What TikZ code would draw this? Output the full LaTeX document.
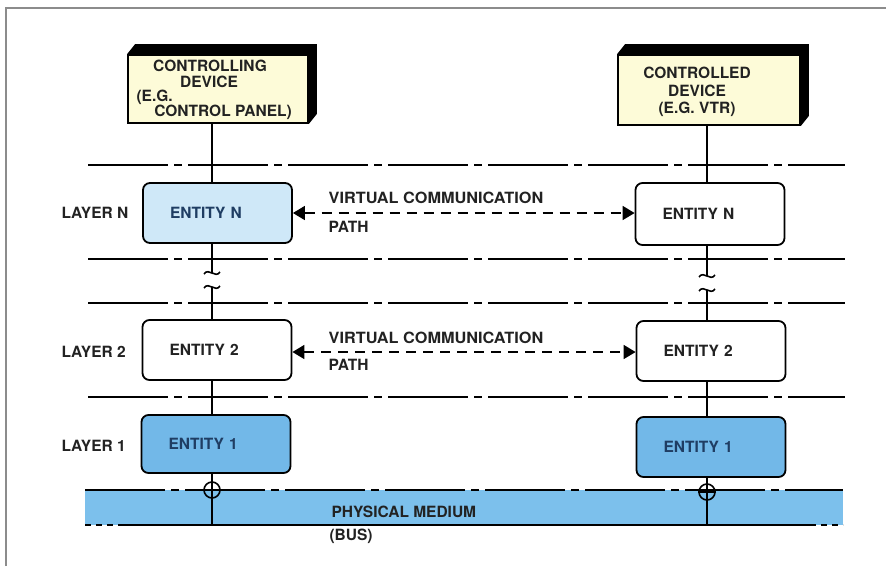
\documentclass[tikz,border=0pt]{standalone}
\usepackage{fontspec}
\setmainfont{TeX Gyre Heros}
\usetikzlibrary{arrows.meta,calc}

\definecolor{devfill}{HTML}{FDFBD8}
\definecolor{paleblue}{HTML}{CFE8F8}
\definecolor{midblue}{HTML}{72B8E8}
\definecolor{busblue}{HTML}{7CC0EC}
\definecolor{inkgray}{HTML}{222222}
\definecolor{inknavy}{HTML}{1F3D63}
\definecolor{framegray}{HTML}{8C8C8C}

\newcommand\lblfont{\fontsize{15.5}{18}\selectfont\bfseries}

\begin{document}
\begin{tikzpicture}[x=1pt,y=-1pt,
  every node/.style={font=\lblfont, text=inkgray},
  rule/.style={line width=1.9pt, draw=black},
  layerline/.style={line width=1.9pt, dash pattern=on 80pt off 6pt on 8pt off 6pt},
  devbox/.style={draw, line width=1.8pt, fill=devfill, rectangle},
  entity/.style={draw, line width=1.8pt, rounded corners=7pt, minimum height=60pt,
    text width=95pt, inner xsep=27pt, align=left, fill=white},
  vpath/.style={line width=1.6pt, dash pattern=on 10pt off 7pt,
    {Triangle[length=12pt,width=14pt]}-{Triangle[length=12pt,width=14pt]}},
  junction/.style={circle, draw, line width=1.6pt, minimum size=16pt, inner sep=0pt},
  brk/.style={line width=1.6pt}
]
\useasboundingbox (0,0) rectangle (886,566);

% page frame (top and left edges)
\draw[framegray, line width=2pt] (6,566) -- (6,8) -- (886,8);

% physical medium band
\fill[busblue] (85,490) rectangle (843,525);
\draw[layerline] (85,490) -- (843,490);
\draw[line width=1.9pt, dash pattern=on 6pt off 5pt] (85,525) -- (118,525);
\draw[line width=1.9pt] (118,525) -- (810,525);
\draw[line width=1.9pt, dash pattern=on 6pt off 5pt] (810,525) -- (843,525);

% layer boundaries
\draw[layerline] (88,165) -- (845,165);
\draw[layerline] (88,259) -- (845,259);
\draw[layerline] (88,303) -- (845,303);
\draw[layerline] (88,397) -- (845,397);

% column positions
\coordinate (colL) at (212,0);
\coordinate (colR) at (707,0);

% devices
\node[devbox, minimum width=180pt, minimum height=68pt] (devL) at (218,89) {};
\fill ($(devL.north west)$) -- ++(8,-10) -- ($(devL.north east)+(8,-10)$)
  -- ($(devL.south east)+(8,-10)$) -- (devL.south east) -- (devL.north east) -- cycle;
\node (devLa) at (210,66) {CONTROLLING};
\node (devLb) at (209,82) {DEVICE};
\node[anchor=west] (devLc) at (133,97) {(E.G.};
\node (devLd) at (223,112) {CONTROL PANEL)};

\node[devbox, minimum width=182pt, minimum height=70pt] (devR) at (709,90) {};
\fill ($(devR.north west)$) -- ++(8,-10) -- ($(devR.north east)+(8,-10)$)
  -- ($(devR.south east)+(8,-10)$) -- (devR.south east) -- (devR.north east) -- cycle;
\node[align=center] (devRt) at (697,92) {CONTROLLED\\[-0.5pt]DEVICE\\[-0.5pt](E.G. VTR)};

% entities, controlling side
\node[entity, fill=paleblue, text=inknavy] (entNL) at (217.5,213) {ENTITY N};
\node[entity] (ent2L) at (217,350) {ENTITY 2};
\node[entity, fill=midblue, text=inknavy, minimum height=58pt] (ent1L) at (216,444) {ENTITY 1};

% entities, controlled side
\node[entity, minimum height=62pt] (entNR) at (710,214) {ENTITY N};
\node[entity] (ent2R) at (711,351) {ENTITY 2};
\node[entity, fill=midblue, text=inknavy] (ent1R) at (711,447) {ENTITY 1};

% layer labels
\node[anchor=west] (layN) at (58,213) {LAYER N};
\node[anchor=west] (lay2) at (58,352) {LAYER 2};
\node[anchor=west] (lay1) at (58,446) {LAYER 1};

% break points on the vertical stacks
\coordinate (brkLa) at (212,273);
\coordinate (brkLb) at (212,287);
\coordinate (brkRa) at (707,276);
\coordinate (brkRb) at (707,290);

% junctions with the medium
\node[junction] (jL) at (212,490) {};
\node[junction] (jR) at (707,492) {};
\coordinate (busL) at (212,525);
\coordinate (busR) at (707,525);

% vertical stack, controlling side
\draw[rule] (devL.south -| colL) -- (entNL.north -| colL);
\draw[rule] (entNL.south -| colL) -- (brkLa);
\draw[rule] (brkLb) -- (ent2L.north -| colL);
\draw[rule] (ent2L.south -| colL) -- (ent1L.north -| colL);
\draw[rule] (ent1L.south -| colL) -- (jL.north);
\draw[rule] (jL.north) -- (busL);
\draw[line width=1.6pt] (jL.west) -- (jL.east);

% vertical stack, controlled side
\draw[rule] (devR.south -| colR) -- (entNR.north -| colR);
\draw[rule] (entNR.south -| colR) -- (brkRa);
\draw[rule] (brkRb) -- (ent2R.north -| colR);
\draw[rule] (ent2R.south -| colR) -- (ent1R.north -| colR);
\draw[rule] (ent1R.south -| colR) -- (jR.north);
\draw[rule] (jR.north) -- (busR);
\draw[line width=1.6pt] (jR.west) -- (jR.east);

% break marks
\foreach \p in {brkLa,brkLb,brkRa,brkRb}{
  \draw[brk] ($(\p)+(-8,1)$) .. controls ($(\p)+(-3,-6)$) and ($(\p)+(3,6)$) .. ($(\p)+(8,-1)$);
}

% virtual communication paths
\draw[vpath] (entNL.east) -- (entNL.east -| entNR.west);
\node[anchor=west, xscale=1.05] (vN1) at (325,198) {VIRTUAL COMMUNICATION};
\node[anchor=west] (vN2) at (325,227) {PATH};

\draw[vpath] (ent2L.east |- 0,352) -- (ent2R.west |- 0,352);
\node[anchor=west, xscale=1.05] (v21) at (325,338) {VIRTUAL COMMUNICATION};
\node[anchor=west] (v22) at (325,365) {PATH};

% medium labels
\node[anchor=west] (phys) at (328,512) {PHYSICAL MEDIUM};
\node[anchor=west] (bus) at (326,536) {(BUS)};
\end{tikzpicture}
\end{document}
